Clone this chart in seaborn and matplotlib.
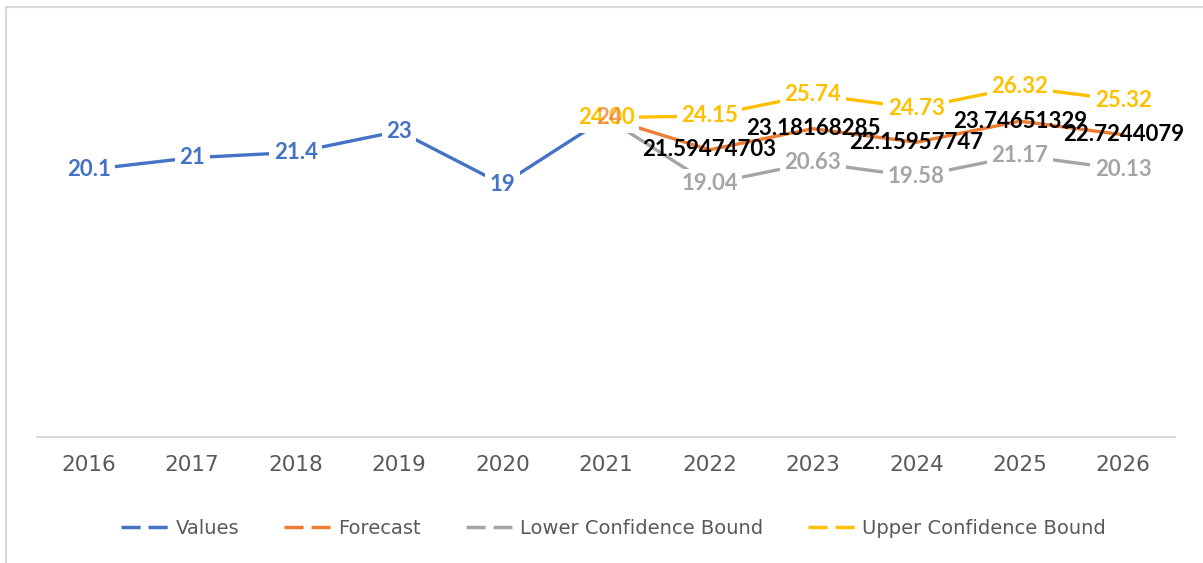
import pandas as pd
import numpy as np
import seaborn as sns
import matplotlib.pyplot as plt
from matplotlib.lines import Line2D
from matplotlib.patches import Rectangle

years = [2016, 2017, 2018, 2019, 2020, 2021, 2022, 2023, 2024, 2025, 2026]
values = [20.1, 21, 21.4, 23, 19, 24]
forecast = [24, 21.59474703, 23.18168285, 22.15957747, 23.74651329, 22.7244079]
lower = [24, 19.04, 20.63, 19.58, 21.17, 20.13]
upper = [24, 24.15, 25.74, 24.73, 26.32, 25.32]

colors = {'Values': '#4472C4', 'Forecast': '#ED7D31',
          'Lower Confidence Bound': '#A5A5A5', 'Upper Confidence Bound': '#FFC000'}

pos = {y: i for i, y in enumerate(years)}
rows = []
for y, v in zip(years[:6], values):
    rows.append((pos[y], v, 'Values'))
for name, ser in [('Forecast', forecast), ('Lower Confidence Bound', lower),
                  ('Upper Confidence Bound', upper)]:
    for y, v in zip(years[5:], ser):
        rows.append((pos[y], v, name))
df = pd.DataFrame(rows, columns=['x', 'value', 'series'])

sns.set_style('white')
plt.rcParams['font.family'] = ['DejaVu Sans']

fig = plt.figure(figsize=(12.03, 5.63), dpi=100)
ax = fig.add_axes([37 / 1203, 1 - 437 / 563, (1175 - 37) / 1203, (437 - 38) / 563])

sns.lineplot(data=df, x='x', y='value', hue='series', palette=colors,
             linewidth=2.4, ax=ax, legend=False, sort=False)

ax.set_xlim(-0.5, 10.5)
ax.set_ylim(0, 30)
ax.set_xticks(range(len(years)))
ax.set_xticklabels([str(y) for y in years])
ax.set_yticks([])
ax.set_xlabel('')
ax.set_ylabel('')
for s in ['top', 'left', 'right']:
    ax.spines[s].set_visible(False)
ax.spines['bottom'].set_color('#d9d9d9')
ax.spines['bottom'].set_linewidth(1.5)
ax.tick_params(axis='x', length=0, pad=13, labelsize=15.5, labelcolor='#595959')

txt = dict(ha='center', va='center', fontsize=16, fontweight='bold', family='Lato')
box = dict(boxstyle='square,pad=0.2', fc='white', ec='none')

for y, v in zip(years[:5], values[:5]):
    ax.text(pos[y], v, f'{v:g}', color=colors['Values'], bbox=box, zorder=5, **txt)
for y, v in zip(years[6:], lower[1:]):
    ax.text(pos[y], v, f'{v:.2f}', color='#A5A5A5', bbox=box, zorder=5, **txt)
for y, v in zip(years[6:], upper[1:]):
    ax.text(pos[y], v, f'{v:.2f}', color=colors['Upper Confidence Bound'], bbox=box,
            zorder=5, **txt)
for y, v in zip(years[6:], forecast[1:]):
    ax.text(pos[y], v, f'{v:.10g}', color='black', zorder=6, **txt)

# overlapping labels at 2021
ax.text(pos[2021], upper[0], f'{upper[0]:.2f}', color=colors['Upper Confidence Bound'],
        bbox=box, zorder=5, **txt)
ax.text(pos[2021] + 0.03, forecast[0], f'{forecast[0]:g}', color=colors['Forecast'],
        alpha=0.75, zorder=6, **txt)

# chart border
fig.patches.append(Rectangle((6 / 1203, -0.1), 1.2, 1.1 - 7 / 563, transform=fig.transFigure,
                             fill=False, ec='#d9d9d9', lw=1.5))

handles = [Line2D([], [], color=c, lw=2.5, linestyle=(0, (5.5, 2.3)), dash_capstyle='butt')
           for c in colors.values()]
fig.legend(handles, list(colors.keys()), loc='center', bbox_to_anchor=(0.51, 0.062), ncol=4,
           frameon=False, fontsize=14, labelcolor='#595959', handlelength=2.4,
           handletextpad=0.4, columnspacing=2.3)

fig.savefig('out.png', dpi=100)
